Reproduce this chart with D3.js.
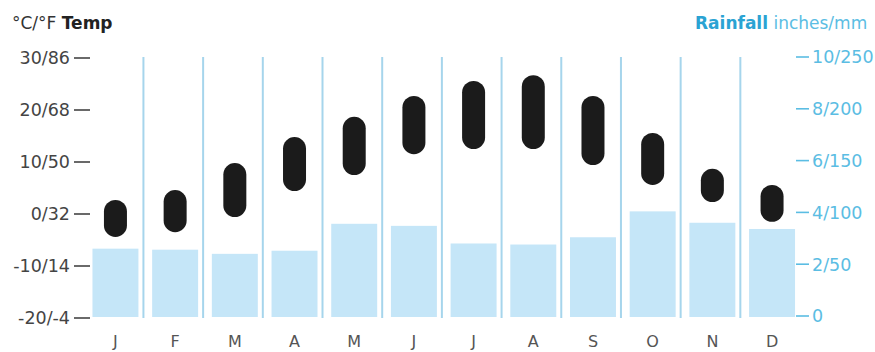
<!DOCTYPE html>
<html><head><meta charset="utf-8">
<script src="https://cdn.jsdelivr.net/npm/d3@7"></script>
<style>
html,body{margin:0;padding:0;background:#fff;}
svg{display:block;font-family:"DejaVu Sans",sans-serif;}
</style></head>
<body>
<svg id="c" width="875" height="352"></svg>
<script>
const months = ["J","F","M","A","M","J","J","A","S","O","N","D"];
const tempMin = [-4.4, -3.5, -0.6, 4.4, 7.5, 11.5, 12.5, 12.5, 9.4, 5.6, 2.3, -1.5];
const tempMax = [2.7, 4.6, 9.8, 14.8, 18.7, 22.7, 25.6, 26.7, 22.7, 15.6, 8.7, 5.6];
const rainMm = [65, 64, 60, 63, 89, 87, 70, 69, 76, 101, 90, 84];
const tempTicks = [-20, -10, 0, 10, 20, 30];
const tempTickLabels = ["-20/-4", "-10/14", "0/32", "10/50", "20/68", "30/86"];
const rainTicks = [0, 50, 100, 150, 200, 250];
const rainTickLabels = ["0", "2/50", "4/100", "6/150", "8/200", "10/250"];

const svg = d3.select("#c");
const idx = d3.range(12);
const x = d3.scaleBand().domain(idx).range([85.6, 801.9]).paddingInner(0.23).paddingOuter(0.115);
const yT = d3.scaleLinear().domain([-20, 30]).range([318, 58]);
const yR = d3.scaleLinear().domain([0, 250]).range([316, 57]);
const bw = x.bandwidth();

// separators
svg.append("g").selectAll("line").data(idx.slice(0, 11)).join("line")
  .attr("x1", d => x(d) + bw + 5).attr("x2", d => x(d) + bw + 5)
  .attr("y1", yR(250)).attr("y2", yT(-20))
  .attr("stroke", "#a6d5ec").attr("stroke-width", 2);

// rain bars
svg.append("g").selectAll("rect").data(idx).join("rect")
  .attr("x", d => x(d)).attr("width", bw)
  .attr("y", d => yR(rainMm[d])).attr("height", d => yR(0) - yR(rainMm[d]) + 1)
  .attr("fill", "#c5e6f8");

// temp capsules
const cw = 23;
svg.append("g").selectAll("rect").data(idx).join("rect")
  .attr("x", d => x(d) + bw / 2 - cw / 2).attr("width", cw)
  .attr("y", d => yT(tempMax[d])).attr("height", d => yT(tempMin[d]) - yT(tempMax[d]))
  .attr("rx", cw / 2).attr("ry", cw / 2)
  .attr("fill", "#1b1b1b");

// left axis
const gl = svg.append("g");
tempTicks.forEach((t, i) => {
  gl.append("line").attr("x1", 74).attr("x2", 90).attr("y1", yT(t)).attr("y2", yT(t))
    .attr("stroke", "#444").attr("stroke-width", 1.6);
  gl.append("text").attr("x", 70).attr("y", yT(t)).attr("dy", "0.36em")
    .attr("text-anchor", "end").attr("font-size", 17.5).attr("fill", "#444")
    .text(tempTickLabels[i]);
});

// right axis
const gr = svg.append("g");
rainTicks.forEach((r, i) => {
  gr.append("line").attr("x1", 796).attr("x2", 809).attr("y1", yR(r)).attr("y2", yR(r))
    .attr("stroke", "#5bbde3").attr("stroke-width", 1.6);
  gr.append("text").attr("x", 812).attr("y", yR(r)).attr("dy", "0.36em")
    .attr("text-anchor", "start").attr("font-size", 17.5).attr("fill", "#5bbde3")
    .text(rainTickLabels[i]);
});

// month labels
svg.append("g").selectAll("text").data(idx).join("text")
  .attr("x", d => x(d) + bw / 2).attr("y", 347)
  .attr("text-anchor", "middle").attr("font-size", 16).attr("fill", "#555")
  .text(d => months[d]);

// headers
const h1 = svg.append("text").attr("x", 12).attr("y", 29).attr("font-size", 17).attr("fill", "#333");
h1.append("tspan").text("°C/°F ");
h1.append("tspan").attr("font-weight", "bold").attr("fill", "#222").text("Temp");

const h2 = svg.append("text").attr("x", 695).attr("y", 29).attr("font-size", 17).attr("fill", "#5bbde3");
h2.append("tspan").attr("font-weight", "bold").attr("fill", "#2aa3d3").text("Rainfall");
h2.append("tspan").text(" inches/mm");
</script>
</body></html>
